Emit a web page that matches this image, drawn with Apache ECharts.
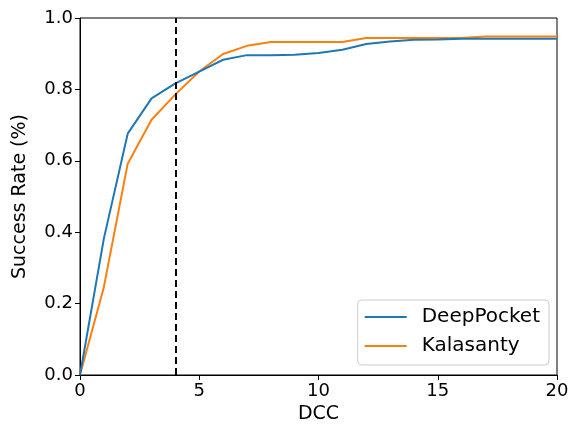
<!DOCTYPE html>
<html>
<head>
<meta charset="utf-8">
<script src="https://cdn.jsdelivr.net/npm/echarts@6/dist/echarts.min.js"></script>
<style>
  html, body { margin: 0; padding: 0; background: #fff; }
  #chart { width: 573px; height: 429px; }
</style>
</head>
<body>
<div id="chart"></div>
<script>
// DCC values 0..20
const dcc = [0, 1, 2, 3, 4, 5, 6, 7, 8, 9, 10, 11, 12, 13, 14, 15, 16, 17, 18, 19, 20];
const deepPocket = [0, 0.382, 0.676, 0.775, 0.817, 0.85, 0.883, 0.896, 0.896, 0.897, 0.902, 0.911, 0.927, 0.934, 0.939, 0.940, 0.942, 0.942, 0.942, 0.942, 0.942];
const kalasanty = [0, 0.246, 0.592, 0.715, 0.786, 0.85, 0.899, 0.922, 0.933, 0.933, 0.933, 0.933, 0.944, 0.944, 0.944, 0.944, 0.944, 0.948, 0.948, 0.948, 0.948];
const cutoff = 4;

const font = "DejaVu Sans";
const chart = echarts.init(document.getElementById("chart"));

function pairs(ys) {
  return dcc.map((x, i) => [x, ys[i]]);
}

const option = {
  animation: false,
  textStyle: { fontFamily: font },
  grid: {
    left: 80,
    right: 16,
    top: 18,
    bottom: 54,
    show: true,
    borderColor: "#000",
    borderWidth: 1,
  },
  legend: {
    right: 24,
    bottom: 64,
    orient: "vertical",
    data: ["DeepPocket", "Kalasanty"],
    icon: "rect",
    itemWidth: 42,
    itemHeight: 2,
    itemGap: 9,
    padding: [7, 9, 9, 7],
    borderColor: "#ccc",
    borderWidth: 1,
    borderRadius: 4,
    backgroundColor: "#fff",
    textStyle: { fontSize: 20, color: "#000", fontFamily: font, padding: [0, 0, 0, 10] },
  },
  xAxis: {
    type: "value",
    min: 0,
    max: 20,
    interval: 5,
    name: "DCC",
    nameLocation: "middle",
    nameGap: 28,
    nameTextStyle: { fontSize: 19, color: "#000" },
    axisLine: { show: true, lineStyle: { color: "#000" } },
    axisTick: { show: true, length: 5, lineStyle: { color: "#000" } },
    axisLabel: { fontSize: 18, color: "#000", margin: 7 },
    splitLine: { show: false },
  },
  yAxis: {
    type: "value",
    min: 0,
    max: 1,
    interval: 0.2,
    name: "Success Rate (%)",
    nameLocation: "middle",
    nameGap: 50,
    nameTextStyle: { fontSize: 19, color: "#000" },
    axisLine: { show: true, lineStyle: { color: "#000" } },
    axisTick: { show: true, length: 5, lineStyle: { color: "#000" } },
    axisLabel: {
      fontSize: 18,
      color: "#000",
      margin: 7,
      formatter: (v) => v.toFixed(1),
    },
    splitLine: { show: false },
  },
  series: [
    {
      name: "DeepPocket",
      type: "line",
      data: pairs(deepPocket),
      showSymbol: false,
      symbol: "none",
      color: "#1f77b4",
      lineStyle: { width: 2 },
      z: 3,
      markLine: {
        silent: true,
        symbol: "none",
        label: { show: false },
        lineStyle: { color: "#000", type: [7, 4], width: 2 },
        data: [{ xAxis: cutoff }],
      },
    },
    {
      name: "Kalasanty",
      type: "line",
      data: pairs(kalasanty),
      showSymbol: false,
      symbol: "none",
      color: "#ff7f0e",
      lineStyle: { width: 2 },
      z: 2,
    },
  ],
};

chart.setOption(option);
</script>
</body>
</html>
